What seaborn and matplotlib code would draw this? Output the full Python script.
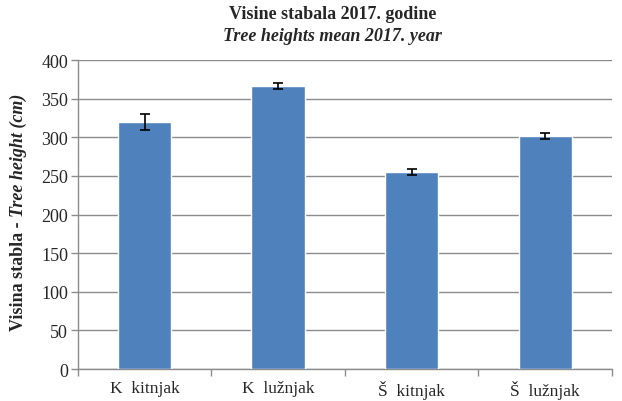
import matplotlib
matplotlib.use("Agg")
import matplotlib.pyplot as plt
import seaborn as sns
import pandas as pd
import numpy as np
from matplotlib.ticker import FixedLocator

categories = ["K  kitnjak", "K  lužnjak", "Š  kitnjak", "Š  lužnjak"]
means = [320, 366, 255, 302]
errors = [10, 4, 4, 4]
yticks = [0, 50, 100, 150, 200, 250, 300, 350, 400]

sns.set_theme(style="white")
plt.rcParams['font.family'] = ['Liberation Serif', 'DejaVu Serif']

df = pd.DataFrame({"cat": categories, "mean": means})

fig = plt.figure(figsize=(6.22, 4.02), dpi=100)
ax = fig.add_axes([0.125, 0.0796, 0.859, 0.7685])

sns.barplot(data=df, x="cat", y="mean", color="#4F81BD", saturation=1,
            width=0.4, errorbar=None, ax=ax, zorder=3)
ax.errorbar(x=np.arange(len(categories)), y=means, yerr=errors, fmt="none",
            ecolor="black", elinewidth=1.2, capsize=3.5, capthick=1.2, zorder=4)

ax.set_ylim(0, 400)
ax.set_xlim(-0.5, 3.5)
ax.set_yticks(yticks)
ax.yaxis.grid(True, color="#8c8c8c", linewidth=1.0, zorder=0)
ax.set_axisbelow(True)
for s in ["top", "right"]:
    ax.spines[s].set_visible(False)
for s in ["left", "bottom"]:
    ax.spines[s].set_color("#8c8c8c")
    ax.spines[s].set_linewidth(1.0)

ax.tick_params(axis="y", which="major", left=True, length=5, width=1,
               color="#8c8c8c", labelsize=13, pad=2)
ax.tick_params(axis="x", which="major", length=0, labelsize=12.5, pad=8)
ax.xaxis.set_minor_locator(FixedLocator([-0.5, 0.5, 1.5, 2.5, 3.5]))
ax.tick_params(axis="x", which="minor", bottom=True, length=5, width=1,
               color="#8c8c8c")
ax.set_xlabel("")
ax.set_ylabel("")

fig.text(0.535, 0.965, "Visine stabala 2017. godine", ha="center", va="center",
         fontsize=13, fontweight="bold")
fig.text(0.535, 0.91, "Tree heights mean 2017. year", ha="center", va="center",
         fontsize=13, fontweight="bold", fontstyle="italic")

# y label in two styles, centered vertically on the axis
x_lab = 0.03
fs = 13
t1 = fig.text(x_lab, 0.1, "Visina stabla - ", rotation=90, rotation_mode="anchor",
              ha="left", va="center", fontsize=fs, fontweight="bold")
t2 = fig.text(x_lab, 0.5, "Tree height (cm)", rotation=90, rotation_mode="anchor",
              ha="left", va="center", fontsize=fs, fontweight="bold", fontstyle="italic")
fig.canvas.draw()
r = fig.canvas.get_renderer()
h1 = t1.get_window_extent(r).height / fig.bbox.height
h2 = t2.get_window_extent(r).height / fig.bbox.height
center = 1 - 212 / 402
y0 = center - (h1 + h2) / 2
t1.set_position((x_lab, y0))
t2.set_position((x_lab, y0 + h1))

fig.savefig("out.png", dpi=100)
